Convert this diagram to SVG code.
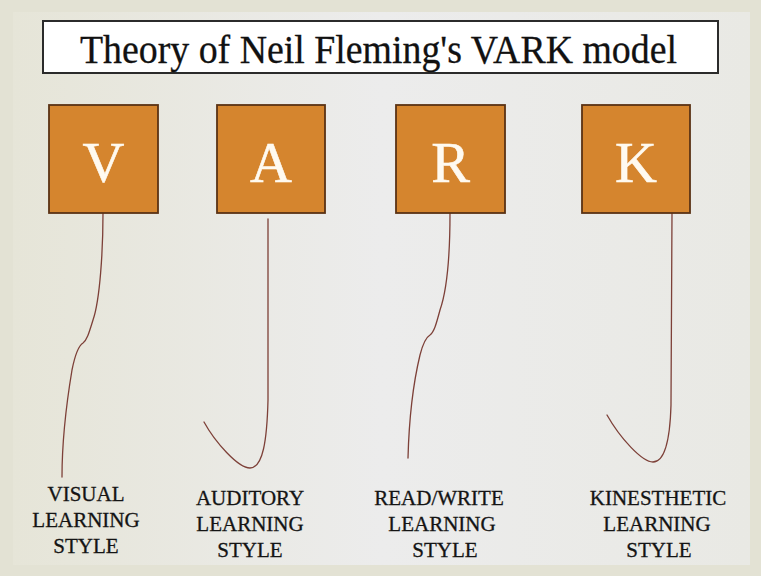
<svg xmlns="http://www.w3.org/2000/svg" width="761" height="576" viewBox="0 0 761 576">
<defs>
<style>
.box{fill:#d5852e;stroke:#5a3214;stroke-width:1.8}
.letter{font-family:'Liberation Serif',serif;font-size:58px;fill:#fffaf0;stroke:#fffaf0;stroke-width:0.6;text-anchor:middle}
.lbl{font-family:'Liberation Serif',serif;font-size:21px;fill:#141414;stroke:#141414;stroke-width:0.3;text-anchor:middle}
.conn{fill:none;stroke:#7d4038;stroke-width:1.3;stroke-linecap:round}
</style>
<linearGradient id="bgH" x1="0" y1="0" x2="1" y2="0">
<stop offset="0" stop-color="#e6e5d8"/>
<stop offset="0.5" stop-color="#ececec"/>
<stop offset="1" stop-color="#e9e9e4"/>
</linearGradient>
</defs>
<rect x="0" y="0" width="761" height="576" fill="#e3e2d4"/>
<rect x="13" y="12" width="737" height="553" fill="url(#bgH)"/>
<g id="title">
<rect x="43" y="21" width="675" height="52" fill="#ffffff" stroke="#2b2b2b" stroke-width="2"/>
<text x="378.5" y="63" font-family="Liberation Serif, serif" font-size="40" fill="#111" stroke="#111" stroke-width="0.3" text-anchor="middle" textLength="597" lengthAdjust="spacingAndGlyphs">Theory of Neil Fleming's VARK model</text>
</g>
<g id="connectors">
<path class="conn" d="M103,213 C103,250 100,300 93,320 C89,333 87,340 83,343 C78,346 75,355 72,370 C67,400 62,440 62,477"/>
<path class="conn" d="M268,219 L268,400 C267,440 263,468 250,468 C238,468 215,442 204,422"/>
<path class="conn" d="M450,213 C450,250 447,290 440,310 C436,325 434,332 430,335 C425,338 422,347 420,355 C414,380 409,420 408,458"/>
<path class="conn" d="M672,213 L671,405 C670,440 665,462 653,462 C642,462 620,438 607,415"/>
</g>
<g id="node-v">
<rect class="box" x="49" y="105" width="109" height="108"/>
<text class="letter" style="font-family:'Liberation Serif',serif" x="103.5" y="182">V</text>
<text class="lbl" style="font-family:'Liberation Serif',serif"><tspan x="86" y="501">VISUAL</tspan><tspan x="86" y="527">LEARNING</tspan><tspan x="86" y="553">STYLE</tspan></text>
</g>
<g id="node-a">
<rect class="box" x="217" y="105" width="108" height="108"/>
<text class="letter" style="font-family:'Liberation Serif',serif" x="271" y="182">A</text>
<text class="lbl" style="font-family:'Liberation Serif',serif"><tspan x="250" y="505">AUDITORY</tspan><tspan x="250" y="531">LEARNING</tspan><tspan x="250" y="557">STYLE</tspan></text>
</g>
<g id="node-r">
<rect class="box" x="396" y="105" width="109" height="108"/>
<text class="letter" style="font-family:'Liberation Serif',serif" x="450.5" y="182">R</text>
<text class="lbl" style="font-family:'Liberation Serif',serif"><tspan x="439" y="505">READ/WRITE</tspan><tspan x="442" y="531">LEARNING</tspan><tspan x="445" y="557">STYLE</tspan></text>
</g>
<g id="node-k">
<rect class="box" x="582" y="105" width="108" height="108"/>
<text class="letter" style="font-family:'Liberation Serif',serif" x="636" y="182">K</text>
<text class="lbl" style="font-family:'Liberation Serif',serif"><tspan x="658" y="505">KINESTHETIC</tspan><tspan x="657" y="531">LEARNING</tspan><tspan x="659" y="557">STYLE</tspan></text>
</g>
</svg>
